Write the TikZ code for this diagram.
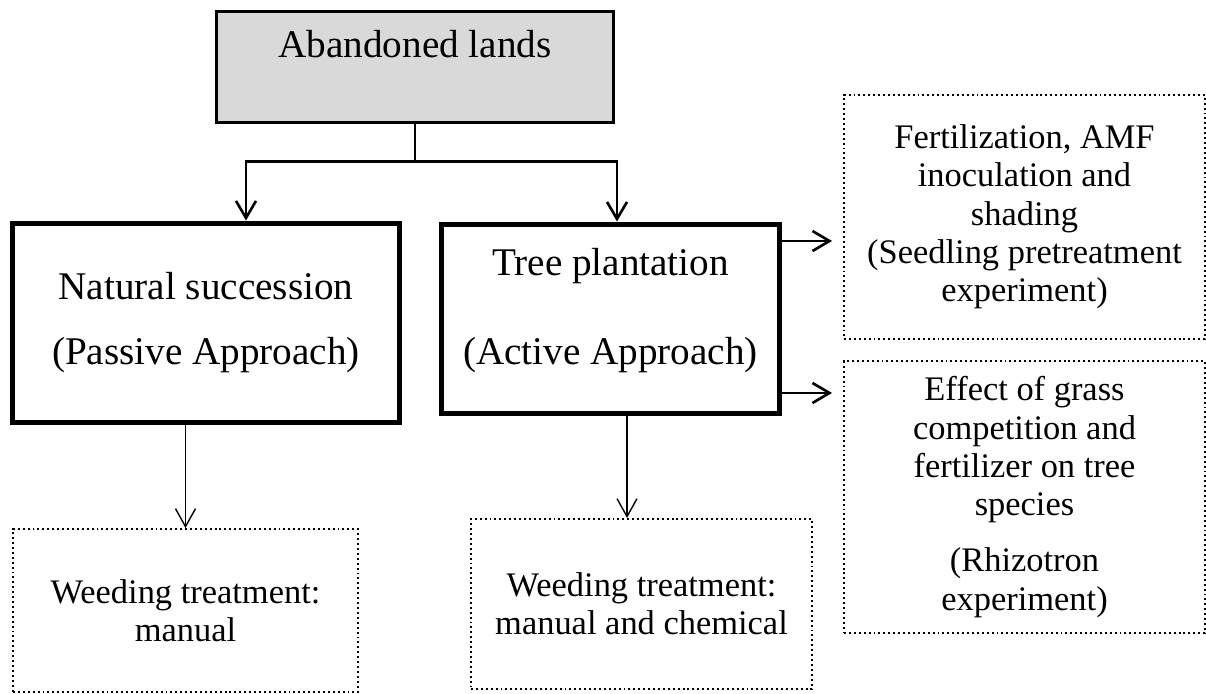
\documentclass[tikz,border=0pt]{standalone}
\usepackage{fontspec}
\setmainfont{Liberation Serif}
\usetikzlibrary{arrows.meta,positioning}

\tikzset{
  bigtxt/.style={font=\fontsize{22.3}{27}\selectfont},
  smalltxt/.style={font=\fontsize{19.6}{21.8}\selectfont},
  start/.style={draw, line width=1.7pt, fill=black!15, bigtxt},
  approach/.style={draw, line width=2.85pt, align=center, bigtxt},
  expt/.style={draw, line width=1.1pt, dash pattern=on 1.1pt off 1.7pt, align=center, smalltxt},
  link/.style={line width=1.5pt},
  arr/.style={link, -{Straight Barb[length=0.34cm,width=0.4cm,line width=1.5pt]}},
  thinarr/.style={line width=0.8pt, -{Straight Barb[length=0.36cm,width=0.4cm,line width=0.8pt]}}
}

\begin{document}
\begin{tikzpicture}[x=0.02cm, y=-0.02cm]
      \useasboundingbox (0,0) rectangle (1206,693);
      % Define nodes
      \node[start, minimum width=7.96cm, minimum height=2.24cm, text height=15.5pt, text depth=25.8pt] (land) at (415,67) {Abandoned lands};
      \node[approach, minimum width=7.76cm, minimum height=4cm] (nat) at (206,323) {Natural succession\\[10pt](Passive Approach)};
      \node[approach, minimum width=6.78cm, minimum height=3.8cm, text depth=14pt] (tree) at (610.5,319) {Tree plantation\\[23.6pt](Active Approach)};
      \node[expt, minimum width=7.22cm, minimum height=4.88cm] (fert) at (1024.5,217) {Fertilization, AMF\\inoculation and\\shading\\(Seedling pretreatment\\experiment)};
      \node[expt, minimum width=7.22cm, minimum height=5.44cm] (grass) at (1024.5,497) {Effect of grass\\competition and\\fertilizer on tree\\species\\[10pt](Rhizotron\\experiment)};
      \node[expt, minimum width=6.9cm, minimum height=3.26cm] (weedA) at (185.5,610.5) {Weeding treatment:\\manual};
      \node[expt, minimum width=6.82cm, minimum height=3.4cm] (weedB) at (641.5,604) {Weeding treatment:\\manual and chemical};
      \coordinate (treefoot) at ([xshift=0.33cm]tree.south);
      % Connect nodes
      \draw[link] (land.south) -- ++(0,37) coordinate (split);
      \draw[arr] (split) -| ([xshift=0.8cm]nat.north);
      \draw[arr] (split) -| ([xshift=0.13cm]tree.north);
      \draw[arr, shorten >=0.22cm] ([yshift=1.56cm]tree.east) -- ([yshift=1.56cm]tree.east -| fert.west);
      \draw[arr, shorten >=0.22cm] ([yshift=-1.48cm]tree.east) -- ([yshift=-1.48cm]tree.east -| grass.west);
      \draw[thinarr] (weedA.north |- nat.south) -- (weedA.north);
      \draw[thinarr] (treefoot) -- (treefoot |- weedB.north);
\end{tikzpicture}
\end{document}
